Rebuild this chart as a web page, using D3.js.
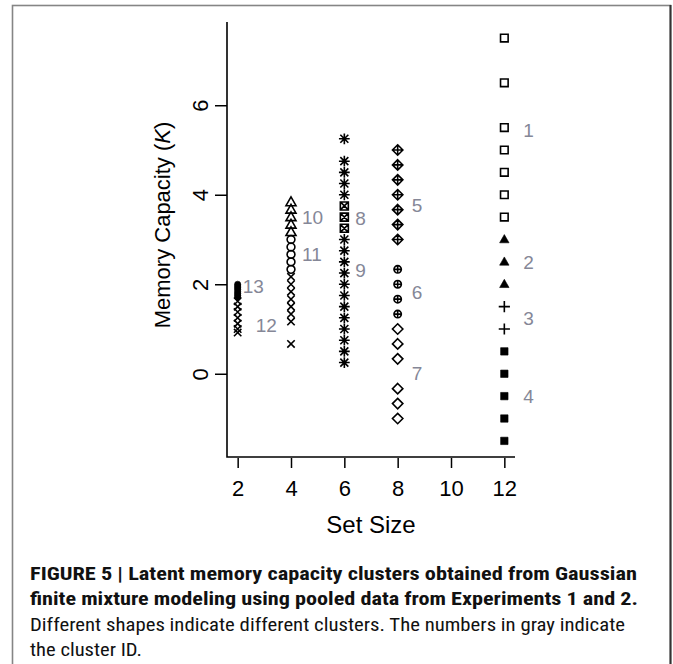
<!DOCTYPE html>
<html>
<head>
<meta charset="utf-8">
<script src="https://cdnjs.cloudflare.com/ajax/libs/d3/7.8.5/d3.min.js"></script>
<style>
  html, body { margin: 0; padding: 0; background: #fff; }
  svg { display: block; }
  .axis text { font-family: "Liberation Sans", Arial, Helvetica, sans-serif; font-size: 22px; fill: #000; }
  .axis path { display: none; }
  .axis line { stroke: #000; stroke-width: 1.5; }
  .cap { font-family: "Liberation Sans Narrow", "Roboto Condensed", "Liberation Sans", Arial, sans-serif; font-size: 19px; fill: #111; }
</style>
</head>
<body>
<svg id="fig" width="673" height="664"></svg>
<script>
// tick labels
var setTicks = [2, 4, 6, 8, 10, 12];
var kTicks = [0, 2, 4, 6];

// memory capacity values per cluster
var cluster1 = [7.5, 6.5, 5.5, 5, 4.5, 4, 3.5];
var cluster2 = [3, 2.5, 2];
var cluster3 = [1.5, 1];
var cluster4 = [0.5, 0, -0.5, -1, -1.5];
var cluster5 = [5, 4.667, 4.333, 4, 3.667, 3.333, 3];
var cluster6 = [2.333, 2, 1.667, 1.333];
var cluster7 = [1, 0.667, 0.333, -0.333, -0.667, -1];
var cluster8 = [3.75, 3.5, 3.25];
var cluster9 = [5.25, 4.75, 4.5, 4.25, 4, 3, 2.75, 2.5, 2.25, 2, 1.75, 1.5, 1.25, 1, 0.75, 0.5, 0.25];
var cluster10 = [3.833, 3.667, 3.5, 3.333, 3.167];
var cluster11 = [3, 2.833, 2.667, 2.5, 2.333];
var cluster12a = [2.167, 2, 1.833, 1.667, 1.5, 1.333, 1.167, 0.667];
var cluster12b = [1.62, 1.5, 1.38, 1.25, 1.12, 1, 0.92];
var cluster13 = [2, 1.96, 1.92, 1.88, 1.83, 1.79, 1.75, 1.71];

// [cluster id, set size, values]
var groups = [
  [1, 12, cluster1], [2, 12, cluster2], [3, 12, cluster3], [4, 12, cluster4],
  [5, 8, cluster5], [6, 8, cluster6], [7, 8, cluster7],
  [8, 6, cluster8], [9, 6, cluster9],
  [10, 4, cluster10], [11, 4, cluster11], [12, 4, cluster12a],
  [12, 2, cluster12b], [13, 2, cluster13]
];

// gray cluster id labels: id, set size column, K level
var labelIds = [1, 2, 3, 4, 5, 6, 7, 8, 9, 10, 11, 12, 13];
var labelSet = [12, 12, 12, 12, 8, 8, 8, 6, 6, 4, 4, 2, 2];
var labelK = [5.45, 2.5, 1.25, -0.5, 3.77, 1.83, 0.02, 3.48, 2.32, 3.5, 2.68, 1.09, 1.96];

var captionLines = [
  "FIGURE 5 | Latent memory capacity clusters obtained from Gaussian",
  "finite mixture modeling using pooled data from Experiments 1 and 2.",
  "Different shapes indicate different clusters. The numbers in gray indicate",
  "the cluster ID."
];

var svg = d3.select("#fig");

// frame
svg.append("rect")
  .attr("x", 12.5).attr("y", 5.5).attr("width", 658).attr("height", 700)
  .attr("fill", "none").attr("stroke", "#858585").attr("stroke-width", 1.6);
svg.append("line")
  .attr("x1", 670.5).attr("x2", 670.5).attr("y1", 5).attr("y2", 664)
  .attr("stroke", "#333").attr("stroke-width", 2);

var x = d3.scaleLinear().domain([1.6, 12.4]).range([227, 515]);
var y = d3.scaleLinear().domain([-1.86, 7.86]).range([457, 22]);

var plot = svg.append("g");

// L-shaped box
plot.append("path")
  .attr("d", "M" + x(1.6) + "," + y(7.86) + "V" + y(-1.86) + "H" + x(12.4))
  .attr("fill", "none").attr("stroke", "#000").attr("stroke-width", 1.6);

var xAxis = plot.append("g").attr("class", "axis")
  .attr("transform", "translate(0," + (y(-1.86) + 1) + ")")
  .call(d3.axisBottom(x).tickValues(setTicks).tickSize(10).tickPadding(6));
xAxis.selectAll("text").attr("dy", null).attr("y", 38);

var yAxis = plot.append("g").attr("class", "axis")
  .attr("transform", "translate(" + x(1.6) + ",0)")
  .call(d3.axisLeft(y).tickValues(kTicks).tickSize(12));
yAxis.selectAll("text")
  .attr("x", null).attr("dy", null)
  .attr("text-anchor", "middle")
  .attr("transform", "translate(-19,0) rotate(-90)");

// axis titles
svg.append("text")
  .attr("x", (x(1.6) + x(12.4)) / 2).attr("y", 533)
  .attr("text-anchor", "middle")
  .style("font-family", "'Liberation Sans', Arial, sans-serif").style("font-size", "24px")
  .text("Set Size");

var yTitle = svg.append("text")
  .attr("text-anchor", "middle")
  .attr("transform", "translate(170," + 225 + ") rotate(-90)")
  .style("font-family", "'Liberation Sans', Arial, sans-serif").style("font-size", "22px");
yTitle.append("tspan").text("Memory Capacity (");
yTitle.append("tspan").style("font-style", "italic").text("K");
yTitle.append("tspan").text(")");

// marker shapes, R pch style
var shapeOf = {1: "square", 2: "triangleFill", 3: "plus", 4: "squareFill", 5: "diamondPlus",
  6: "circlePlus", 7: "diamond", 8: "squareCross", 9: "asterisk", 10: "triangle",
  11: "circle", 12: "cross", 13: "circleFill"};

function markPath(shape) {
  var p = d3.path();
  function sq(r) { p.rect(-r, -r, 2 * r, 2 * r); }
  function pl(r) { p.moveTo(-r, 0); p.lineTo(r, 0); p.moveTo(0, -r); p.lineTo(0, r); }
  function cr(r) { p.moveTo(-r, -r); p.lineTo(r, r); p.moveTo(-r, r); p.lineTo(r, -r); }
  function di(r) { p.moveTo(0, -r); p.lineTo(r, 0); p.lineTo(0, r); p.lineTo(-r, 0); p.closePath(); }
  function ci(r) { p.moveTo(r, 0); p.arc(0, 0, r, 0, 2 * Math.PI); p.closePath(); }
  function tr(r) { p.moveTo(0, -r * 1.05); p.lineTo(r, r * 0.7); p.lineTo(-r, r * 0.7); p.closePath(); }
  switch (shape) {
    case "square": sq(3.8); break;
    case "squareFill": sq(3.7); break;
    case "triangle": tr(5); break;
    case "triangleFill": tr(4.7); break;
    case "plus": pl(5.6); break;
    case "cross": cr(3.7); break;
    case "diamond": di(5.2); break;
    case "diamondPlus": di(5.2); pl(5.2); break;
    case "circle": ci(3.9); break;
    case "circleFill": ci(3.1); break;
    case "circlePlus": ci(3.7); pl(3.7); break;
    case "squareCross": sq(4); cr(4); break;
    case "asterisk": pl(5.4); cr(4); break;
  }
  return p.toString();
}

var points = [];
groups.forEach(function(g) {
  g[2].forEach(function(v) { points.push({id: g[0], set: g[1], k: v}); });
});

plot.append("g").selectAll("path")
  .data(points)
  .enter().append("path")
  .attr("transform", function(d) { return "translate(" + x(d.set) + "," + y(d.k) + ")"; })
  .attr("d", function(d) { return markPath(shapeOf[d.id]); })
  .attr("fill", function(d) { return /Fill/.test(shapeOf[d.id]) ? "#000" : "none"; })
  .attr("stroke", "#000")
  .attr("stroke-width", function(d) { return /Fill/.test(shapeOf[d.id]) ? 0.6 : 1.6; });

// gray id labels, offset to the right of each column
var labelDx = {1: 19, 2: 19, 3: 19, 4: 19, 5: 14, 6: 14, 7: 14, 8: 11, 9: 11, 10: 11, 11: 11, 12: 18, 13: 5};
plot.append("g").selectAll("text")
  .data(labelIds)
  .enter().append("text")
  .attr("x", function(d, i) { return x(labelSet[i]) + labelDx[d]; })
  .attr("y", function(d, i) { return y(labelK[i]); })
  .attr("dy", "0.36em")
  .style("font-family", "'Liberation Sans', Arial, sans-serif")
  .style("font-size", "19px")
  .attr("fill", "#858797")
  .text(function(d) { return d; });

// caption
var capWidths = [607, 608, 595, 112];
svg.append("g").selectAll("text")
  .data(captionLines)
  .enter().append("text")
  .attr("class", "cap")
  .attr("x", 30)
  .attr("y", function(d, i) { return 580 + i * 25.3; })
  .attr("font-weight", function(d, i) { return i < 2 ? "bold" : "normal"; })
  .attr("textLength", function(d, i) { return capWidths[i]; })
  .attr("lengthAdjust", "spacingAndGlyphs")
  .text(function(d) { return d; });
</script>
</body>
</html>
